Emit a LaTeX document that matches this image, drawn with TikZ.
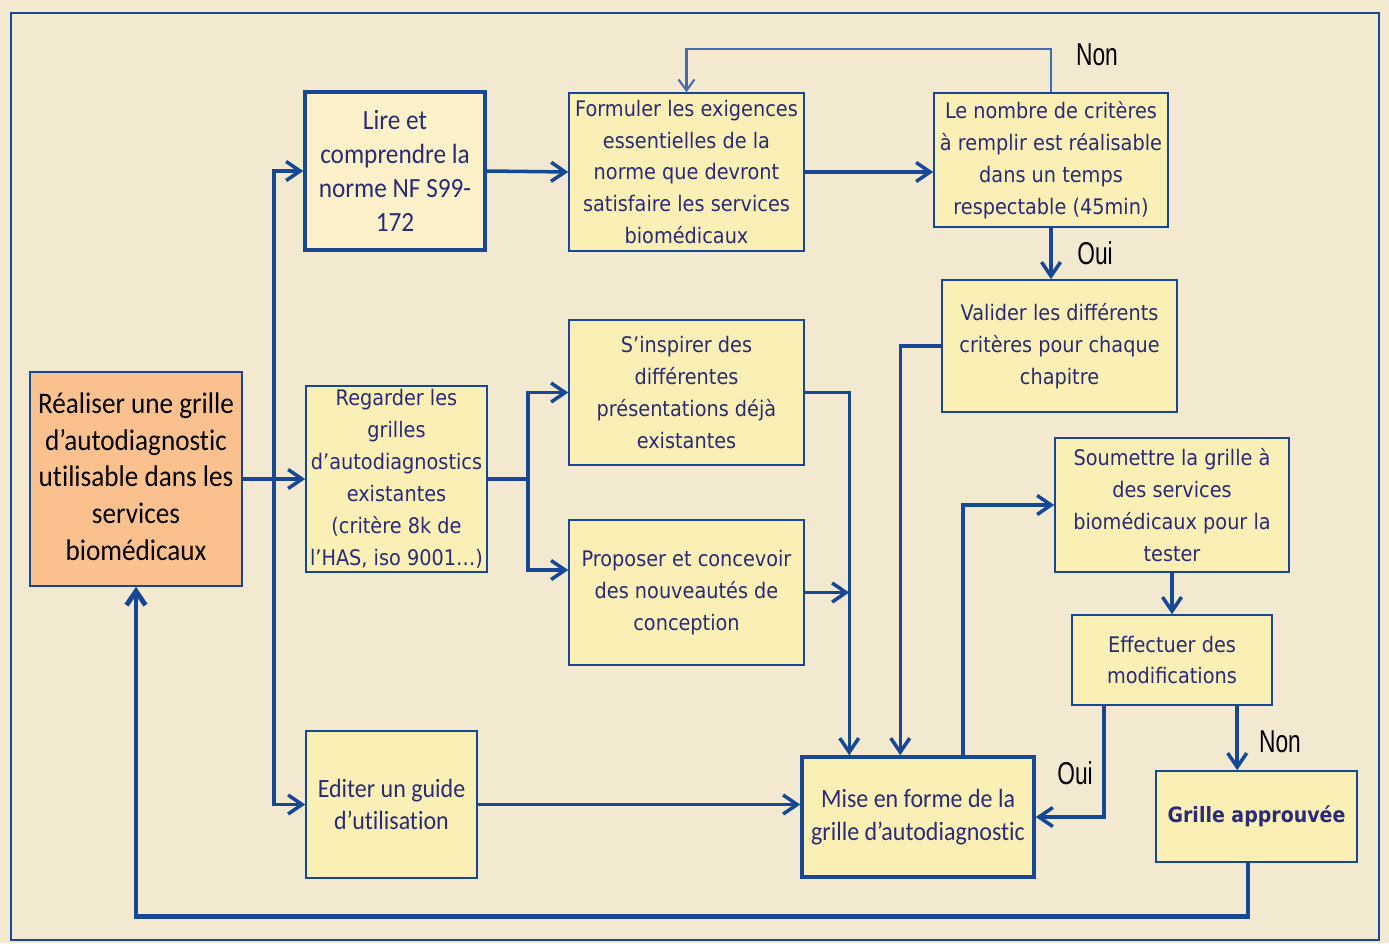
\documentclass[tikz,border=0pt]{standalone}
\usepackage{fontspec}
\setmainfont{DejaVu Sans}[FakeStretch=0.9]
\newfontfamily\narrowfont{Carlito}[FakeStretch=0.91,Ligatures=NoCommon]
\newfontfamily\labelfont{Liberation Sans}[FakeStretch=0.72]
\usetikzlibrary{arrows.meta}
\definecolor{navy}{RGB}{22,72,150}
\definecolor{ink}{RGB}{42,42,118}
\definecolor{paper}{RGB}{243,233,208}
\definecolor{boxfill}{RGB}{250,240,182}
\definecolor{palefill}{RGB}{252,241,200}
\definecolor{orangefill}{RGB}{250,193,143}

\begin{document}
\begin{tikzpicture}[x=0.02cm,y=-0.02cm,>={Straight Barb[length=2.8mm,width=3.8mm]},
 box/.style={draw=navy,line width=0.9pt,fill=boxfill,text=ink,align=center,inner sep=1pt,font=\fontsize{12.2}{18.2}\selectfont},
 bigbox/.style={box,line width=2pt,font=\narrowfont\fontsize{15.8}{19.2}\selectfont},
 conn/.style={navy,line width=2pt,->},
 lbl/.style={font=\labelfont\fontsize{18}{20}\selectfont}]
\useasboundingbox (0,0) rectangle (1389,943);
\fill[paper] (0,0) rectangle (1389,943);
\draw[navy,line width=1.2pt] (11,13) rectangle (1379,940);
% boxes
\node[box,fill=orangefill,text=black,font=\narrowfont\fontsize{17}{21}\selectfont,minimum width=4.24cm,minimum height=4.28cm] (real) at (136,479) {Réaliser une grille\\d’autodiagnostic\\utilisable dans les\\services\\biomédicaux\vphantom{p}};
\node[bigbox,fill=palefill,minimum width=3.6cm,minimum height=3.16cm] (lire) at (395,171) {Lire et\\comprendre la\\norme NF S99-\\172};
\node[box,minimum width=4.7cm,minimum height=3.16cm] (form) at (686.5,172) {Formuler les exigences\\essentielles de la\\norme que devront\\satisfaire les services\\biomédicaux};
\node[box,minimum width=4.68cm,minimum height=2.68cm] (nombre) at (1051,160) {Le nombre de critères\\à remplir est réalisable\\dans un temps\\respectable (45min)};
\node[box,minimum width=4.7cm,minimum height=2.64cm] (valider) at (1059.5,346) {Valider les différents\\critères pour chaque\\chapitre};
\node[box,minimum width=4.7cm,minimum height=2.9cm] (inspirer) at (686.5,392.5) {S’inspirer des\\différentes\\présentations déjà\\existantes};
\node[box,minimum width=3.62cm,minimum height=3.72cm] (regarder) at (396.5,479) {Regarder les\\grilles\\d’autodiagnostics\\existantes\\(critère 8k de\\l’HAS, iso 9001…)};
\node[box,minimum width=4.7cm,minimum height=2.9cm] (proposer) at (686.5,592.5) {Proposer et concevoir\\des nouveautés de\\conception};
\node[box,minimum width=4.68cm,minimum height=2.68cm] (soumettre) at (1172,505) {Soumettre la grille à\\des services\\biomédicaux pour la\\tester};
\node[box,minimum width=4cm,minimum height=1.8cm] (effectuer) at (1172,660) {Effectuer des\\modifications};
\node[box,font=\narrowfont\fontsize{15}{18.5}\selectfont,minimum width=3.42cm,minimum height=2.94cm] (editer) at (391.5,804.5) {Editer un guide\\d’utilisation};
\node[bigbox,font=\narrowfont\fontsize{15}{18.5}\selectfont,minimum width=4.64cm,minimum height=2.4cm] (mise) at (918,817) {Mise en forme de la\\grille d’autodiagnostic};
\node[box,font=\bfseries\fontsize{12}{18}\selectfont,minimum width=4.02cm,minimum height=1.82cm] (grille) at (1256.5,816.5) {Grille approuvée};
% labels
\node[lbl] (non1) at (1097,55) {Non};
\node[lbl] (oui1) at (1095,253) {Oui};
\node[lbl] (oui2) at (1075,773) {Oui};
\node[lbl] (non2) at (1280,742) {Non};
% points on the top of mise
\coordinate (s1) at ([xshift=.98cm]mise.north west);
\coordinate (s2) at ([xshift=2cm]mise.north west);
\coordinate (s3) at ([xshift=3.26cm]mise.north west);
% connectors
\draw[conn] (real.east) -- (regarder.west);
\draw[conn] (real.east) -- ++(31,0) |- (lire.west);
\draw[conn] (real.east) -- ++(31,0) |- (editer.west);
\draw[conn] (lire.east) -- (form.west);
\draw[conn] (form.east) -- (form.east -| nombre.west);
\draw[navy!80,line width=1.2pt,-{Straight Barb[length=2.2mm,width=3.2mm]}] (nombre.north) -- ++(0,-43) -| (form.north);
\draw[conn] (nombre.south) -- (nombre.south |- valider.north);
\draw[conn] (regarder.east) -- ++(40,0) |- (inspirer.west);
\draw[conn] (regarder.east) -- ++(40,0) |- ([yshift=.45cm]proposer.west);
\draw[conn] (inspirer.east) -| (s1);
\draw[conn] (proposer.east) -- (proposer.east -| s1);
\draw[conn] (valider.west) -| (s2);
\draw[conn] (s3) |- (soumettre.west);
\draw[conn] (soumettre.south) -- (effectuer.north);
\draw[conn] ([xshift=.66cm]effectuer.south west) |- (mise.east);
\draw[conn] ([xshift=3.32cm]effectuer.south west) -- ([xshift=3.32cm]effectuer.south west |- grille.north);
\draw[conn] (editer.east) -- (editer.east -| mise.west);
\draw[conn,line width=2.8pt] ([xshift=-.17cm]grille.south) -- ++(0,54) -| (real.south);
\end{tikzpicture}
\end{document}
